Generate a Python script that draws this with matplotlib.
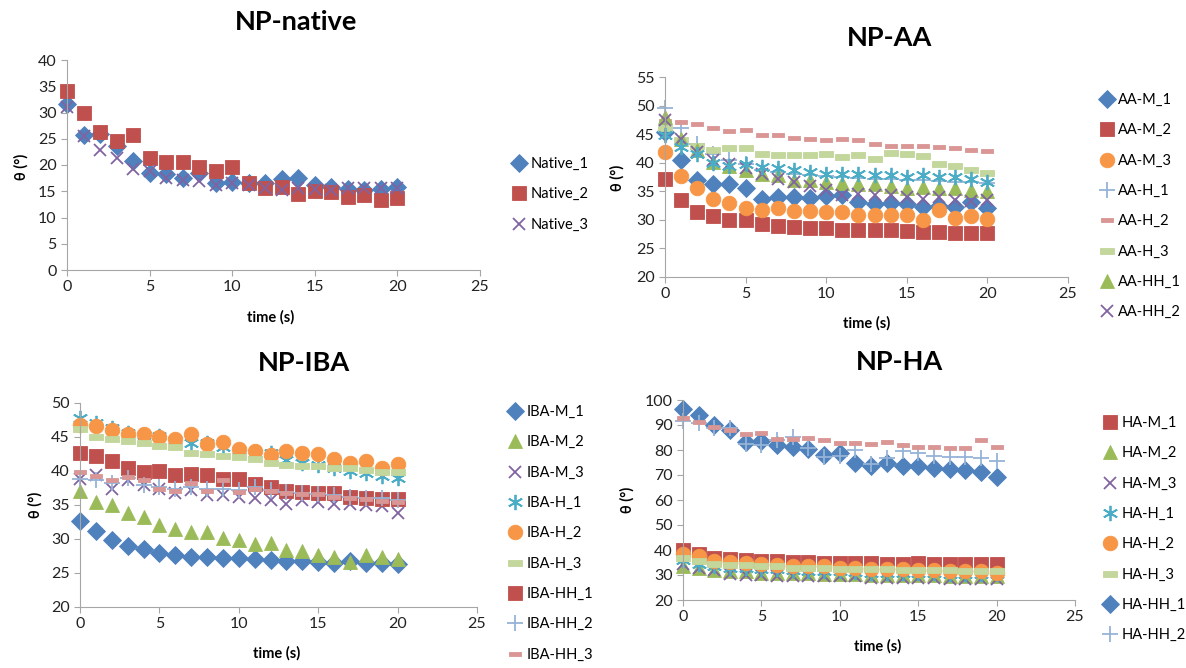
import matplotlib
matplotlib.use('Agg')
import matplotlib.pyplot as plt

plt.rcParams['font.family'] = ['Lato', 'DejaVu Sans']

######################################################################
# data
######################################################################

time = list(range(21))

# NP-native
native_1 = [31.7, 25.8, 26.0, 23.6, 20.8, 18.5, 18.3, 17.5, 18.5, 16.6, 16.7,
            16.6, 16.5, 17.4, 17.6, 16.1, 15.8, 15.4, 15.2, 15.4, 15.9]
native_2 = [34.1, 29.9, 26.3, 24.5, 25.8, 21.3, 20.6, 20.6, 19.7, 18.8, 19.7,
            16.6, 15.7, 15.8, 14.5, 15.1, 14.8, 14.0, 14.3, 13.4, 13.7]
native_3 = [31.1, 25.5, 22.9, 21.3, 19.3, 18.8, 17.5, 17.2, 16.9, 16.2, 16.6,
            16.2, 15.6, 15.3, 15.6, 15.4, 15.3, 15.6, 15.6, 15.7, 15.6]

# NP-AA
aa_m_1 = [45.4, 40.4, 36.9, 36.3, 36.3, 35.6, 33.6, 34.0, 34.0, 33.9, 34.2,
          34.3, 33.1, 32.8, 33.0, 32.7, 32.3, 32.5, 32.3, 33.1, 32.0]
aa_m_2 = [37.2, 33.5, 31.4, 30.6, 30.0, 29.9, 29.2, 28.9, 28.8, 28.5, 28.5,
          28.3, 28.3, 28.3, 28.3, 28.0, 27.9, 27.8, 27.7, 27.7, 27.7]
aa_m_3 = [41.9, 37.6, 35.6, 33.6, 33.0, 32.1, 31.7, 32.1, 31.6, 31.6, 31.3,
          31.4, 30.9, 30.8, 30.9, 30.9, 29.9, 31.8, 30.4, 30.7, 30.2]
aa_h_1 = [49.5, 46.0, 43.3, 41.6, 40.4, 39.8, 38.8, 38.3, 38.0, 37.8, 37.6,
          37.5, 37.4, 37.2, 37.1, 37.0, 36.9, 36.8, 36.7, 36.6, 36.5]
aa_h_2 = [47.3, 47.1, 46.8, 46.0, 45.5, 45.7, 44.9, 44.9, 44.4, 44.1, 43.9,
          44.1, 43.9, 43.3, 43.0, 43.0, 42.9, 42.8, 42.6, 42.3, 42.1]
aa_h_3 = [46.0, 44.0, 42.9, 42.3, 42.6, 42.6, 41.5, 41.3, 41.3, 41.3, 41.5,
          41.0, 41.3, 40.7, 41.7, 41.6, 41.2, 39.8, 39.5, 38.7, 38.2]
aa_hh_1 = [48.0, 44.2, 42.2, 40.1, 39.5, 38.7, 38.1, 37.8, 36.9, 36.9, 36.6,
           36.5, 36.3, 36.2, 36.0, 35.6, 35.8, 35.6, 35.5, 35.2, 35.1]
aa_hh_2 = [47.4, 44.2, 41.9, 40.4, 39.8, 39.0, 38.1, 37.2, 36.6, 36.0, 35.2,
           34.4, 34.5, 34.4, 34.3, 34.0, 33.7, 34.0, 33.5, 33.3, 33.4]
aa_hh_3 = [44.8, 42.8, 41.6, 40.0, 39.5, 39.8, 39.3, 39.0, 38.7, 38.4, 38.1,
           38.1, 38.0, 37.8, 37.8, 37.5, 37.8, 37.5, 37.5, 37.2, 36.7]

# NP-IBA
iba_m_1 = [32.7, 31.2, 29.8, 28.9, 28.5, 27.9, 27.7, 27.4, 27.4, 27.2, 27.2,
           27.0, 26.9, 26.8, 26.7, 26.6, 26.5, 26.7, 26.4, 26.4, 26.3]
iba_m_2 = [37.0, 35.4, 35.0, 33.8, 33.2, 32.0, 31.5, 31.0, 31.0, 30.2, 29.8,
           29.3, 29.4, 28.4, 28.3, 27.7, 27.4, 26.6, 27.6, 27.4, 27.0]
iba_m_3 = [38.8, 39.4, 37.3, 38.7, 37.9, 37.4, 36.7, 37.2, 36.5, 36.5, 36.2,
           36.0, 35.7, 35.1, 35.8, 35.5, 35.2, 35.1, 35.0, 34.8, 33.8]
iba_h_1 = [47.8, 47.1, 46.3, 45.6, 45.3, 45.1, 44.6, 44.1, 44.1, 43.5, 43.1,
           42.6, 42.6, 41.6, 41.2, 40.9, 40.4, 40.0, 39.7, 39.2, 38.9]
iba_h_2 = [46.7, 46.6, 46.0, 45.5, 45.4, 45.0, 44.7, 45.5, 44.0, 44.3, 43.3,
           42.9, 42.4, 42.9, 42.6, 42.5, 41.8, 41.2, 41.5, 40.5, 41.0]
iba_h_3 = [46.2, 45.0, 44.7, 44.4, 44.1, 43.7, 43.5, 42.7, 42.5, 42.2, 42.0,
           41.7, 41.2, 40.9, 40.8, 40.7, 40.4, 40.4, 40.2, 39.9, 39.9]
iba_hh_1 = [42.7, 42.2, 41.4, 40.5, 39.9, 40.0, 39.4, 39.6, 39.4, 38.8, 38.8,
            38.1, 37.7, 37.1, 36.9, 36.8, 36.7, 36.2, 36.1, 35.9, 35.9]
iba_hh_2 = [38.8, 38.7, 38.3, 38.9, 37.9, 37.7, 37.3, 37.6, 37.4, 37.3, 37.2,
            37.7, 37.2, 36.9, 36.7, 36.6, 36.4, 36.2, 36.0, 36.1, 35.8]
iba_hh_3 = [39.8, 39.2, 38.7, 39.1, 38.7, 37.3, 37.1, 38.2, 37.0, 38.7, 36.9,
            37.3, 37.1, 36.8, 36.6, 36.6, 36.2, 36.0, 35.9, 35.6, 35.5]

# NP-HA
ha_m_1 = [40.0, 38.5, 37.0, 36.5, 36.0, 35.8, 35.5, 35.2, 35.2, 35.0, 35.0,
          34.8, 34.8, 34.6, 34.5, 34.8, 34.5, 34.5, 34.5, 34.5, 34.5]
ha_m_2 = [33.5, 33.0, 32.0, 31.5, 31.5, 31.0, 31.0, 30.8, 30.8, 30.5, 30.5,
          30.3, 30.0, 30.0, 30.0, 30.0, 30.0, 29.8, 29.8, 29.8, 29.5]
ha_m_3 = [34.5, 33.0, 32.0, 30.5, 30.0, 30.0, 29.8, 29.8, 29.8, 29.5, 29.5,
          29.5, 29.0, 29.0, 28.8, 28.8, 28.8, 28.5, 28.5, 28.5, 28.3]
ha_h_1 = [36.0, 34.5, 33.5, 33.0, 33.0, 32.5, 32.3, 32.0, 31.8, 31.5, 31.5,
          31.3, 31.0, 31.0, 30.8, 30.8, 30.8, 30.5, 30.5, 30.5, 30.3]
ha_h_2 = [38.5, 37.5, 35.8, 35.2, 35.0, 34.5, 34.0, 33.5, 33.5, 33.5, 33.0,
          33.0, 32.5, 32.3, 32.3, 32.0, 32.0, 31.8, 31.5, 31.5, 31.0]
ha_h_3 = [37.0, 35.5, 34.5, 34.0, 34.0, 33.5, 33.5, 33.0, 33.0, 32.8, 32.5,
          32.5, 32.3, 32.3, 32.0, 32.0, 32.0, 32.0, 31.8, 31.8, 31.7]
ha_hh_1 = [96.3, 94.0, 90.0, 88.0, 83.1, 83.6, 82.0, 81.3, 80.3, 78.0, 78.7,
           74.7, 73.7, 74.7, 73.7, 73.6, 72.9, 72.4, 72.0, 71.1, 69.3]
ha_hh_2 = [91.6, 90.7, 88.7, 88.7, 82.3, 82.0, 84.0, 85.1, 81.0, 77.1, 77.6,
           80.0, 74.3, 76.7, 79.7, 78.9, 77.7, 77.3, 77.3, 76.9, 75.7]
ha_hh_3 = [92.7, 91.3, 89.1, 88.0, 86.4, 86.9, 84.4, 84.4, 84.9, 84.0, 82.7,
           82.9, 82.3, 83.1, 82.0, 81.3, 81.1, 80.9, 80.7, 84.0, 81.3]

######################################################################
# styles (Excel 2007 default marker series)
######################################################################

BAR = [(-1, -0.38), (1, -0.38), (1, 0.38), (-1, 0.38), (-1, -0.38)]
STYLE = {
    'diamond': dict(marker='D', color='#4F81BD', ms=9),
    'square': dict(marker='s', color='#C0504D', ms=10.5),
    'triangle': dict(marker='^', color='#9BBB59', ms=10.5),
    'x': dict(marker='x', color='#8064A2', ms=9, mew=1.3),
    'star': dict(marker=(6, 2, 0), color='#4BACC6', ms=11, mew=1.3),
    'circle': dict(marker='o', color='#F79646', ms=10.5),
    'plus': dict(marker='+', color='#95B3D7', ms=11, mew=1.3),
    'dash_pink': dict(marker=BAR, color='#D99694', ms=8),
    'dash_green': dict(marker=BAR, color='#C3D69B', ms=10),
}

W, H = 1186, 668
fig = plt.figure(figsize=(W / 100, H / 100), dpi=100)


def make_panel(box, ylim, ystep, title, title_xy, series, legend_xy,
               xlabel_xy, ylabel_xy, n_legend):
    left, right, top, bottom = box
    ax = fig.add_axes([left / W, 1 - bottom / H, (right - left) / W, (bottom - top) / H])
    handles = []
    for label, values, kind in series:
        st = STYLE[kind]
        h, = ax.plot(time, values, linestyle='none', marker=st['marker'],
                     color=st['color'], markersize=st['ms'],
                     markeredgewidth=st.get('mew', 0.6),
                     markeredgecolor=st['color'], clip_on=False, label=label)
        handles.append(h)
    ax.set_xlim(0, 25)
    ax.set_ylim(*ylim)
    ax.set_xticks(range(0, 26, 5))
    ax.set_yticks(range(ylim[0], ylim[1] + 1, ystep))
    for s in ['top', 'right']:
        ax.spines[s].set_visible(False)
    for s in ['left', 'bottom']:
        ax.spines[s].set_color('#A6A6A6')
    ax.tick_params(colors='#A6A6A6', labelcolor='#222222', labelsize=11.5,
                   length=4, direction='out')
    fig.text(title_xy[0] / W, 1 - title_xy[1] / H, title, ha='center',
             va='center', fontsize=19.5, fontweight='bold')
    fig.text(xlabel_xy[0] / W, 1 - xlabel_xy[1] / H, 'time (s)', ha='center',
             va='center', fontsize=10.5, fontweight='bold')
    fig.text(ylabel_xy[0] / W, 1 - ylabel_xy[1] / H, 'θ (°)', ha='center',
             va='center', fontsize=10.5, fontweight='bold', rotation=90)
    ax.legend(handles[:n_legend], [s[0] for s in series[:n_legend]],
              loc='upper left', bbox_to_anchor=(legend_xy[0] / W, 1 - legend_xy[1] / H),
              bbox_transform=fig.transFigure, frameon=False, borderpad=0,
              borderaxespad=0, handlelength=1.0, handletextpad=0.25,
              labelspacing=1.12, fontsize=10.5, numpoints=1)
    return ax


make_panel((67, 480, 60, 270), (0, 40), 5, 'NP-native', (296, 22),
           [('Native_1', native_1, 'diamond'),
            ('Native_2', native_2, 'square'),
            ('Native_3', native_3, 'x')],
           (512, 157), (271, 317), (21, 167), 3)

make_panel((665, 1068, 77, 277), (20, 55), 5, 'NP-AA', (890, 38),
           [('AA-M_1', aa_m_1, 'diamond'),
            ('AA-M_2', aa_m_2, 'square'),
            ('AA-M_3', aa_m_3, 'circle'),
            ('AA-H_1', aa_h_1, 'plus'),
            ('AA-H_2', aa_h_2, 'dash_pink'),
            ('AA-H_3', aa_h_3, 'dash_green'),
            ('AA-HH_1', aa_hh_1, 'triangle'),
            ('AA-HH_2', aa_hh_2, 'x'),
            ('AA-HH_3', aa_hh_3, 'star')],
           (1100, 93), (867, 323), (617, 178), 8)

make_panel((80, 477, 403, 607), (20, 50), 5, 'NP-IBA', (304, 363),
           [('IBA-M_1', iba_m_1, 'diamond'),
            ('IBA-M_2', iba_m_2, 'triangle'),
            ('IBA-M_3', iba_m_3, 'x'),
            ('IBA-H_1', iba_h_1, 'star'),
            ('IBA-H_2', iba_h_2, 'circle'),
            ('IBA-H_3', iba_h_3, 'dash_green'),
            ('IBA-HH_1', iba_hh_1, 'square'),
            ('IBA-HH_2', iba_hh_2, 'plus'),
            ('IBA-HH_3', iba_hh_3, 'dash_pink')],
           (508, 405), (277, 653), (35, 505), 9)

make_panel((683, 1075, 400, 600), (20, 100), 10, 'NP-HA', (900, 362),
           [('HA-M_1', ha_m_1, 'square'),
            ('HA-M_2', ha_m_2, 'triangle'),
            ('HA-M_3', ha_m_3, 'x'),
            ('HA-H_1', ha_h_1, 'star'),
            ('HA-H_2', ha_h_2, 'circle'),
            ('HA-H_3', ha_h_3, 'dash_green'),
            ('HA-HH_1', ha_hh_1, 'diamond'),
            ('HA-HH_2', ha_hh_2, 'plus'),
            ('HA-HH_3', ha_hh_3, 'dash_pink')],
           (1103, 416), (878, 646), (627, 500), 8)

fig.savefig('out.png', dpi=100)
